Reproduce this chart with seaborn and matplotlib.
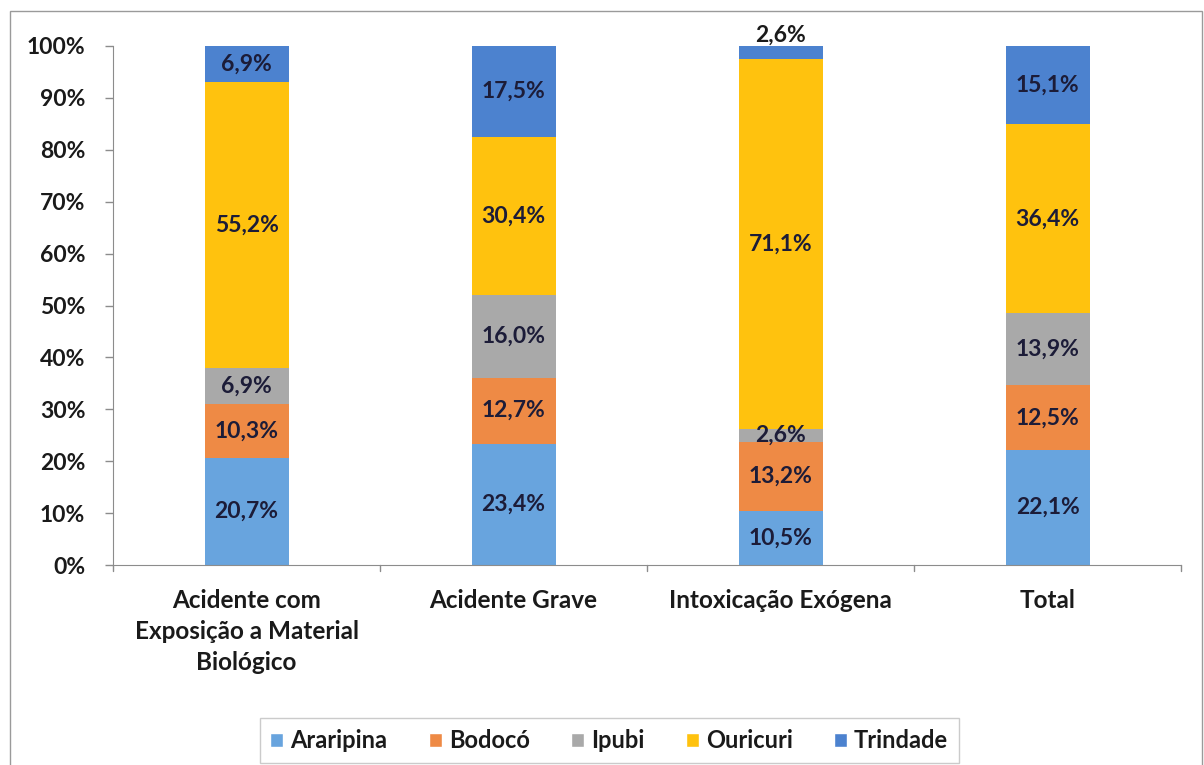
import numpy as np
import pandas as pd
import seaborn as sns
import matplotlib.pyplot as plt
from matplotlib.patches import Patch, Rectangle

sns.set_style("white")
plt.rcParams['font.family'] = ['Lato', 'DejaVu Sans']
plt.rcParams['font.weight'] = 'bold'

categorias = ['Acidente com\nExposição a Material\nBiológico', 'Acidente Grave',
              'Intoxicação Exógena', 'Total']
municipios = ['Araripina', 'Bodocó', 'Ipubi', 'Ouricuri', 'Trindade']
araripina = [20.7, 23.4, 10.5, 22.1]
bodoco = [10.3, 12.7, 13.2, 12.5]
ipubi = [6.9, 16.0, 2.6, 13.9]
ouricuri = [55.2, 30.4, 71.1, 36.4]
trindade = [6.9, 17.5, 2.6, 15.1]
cores = ['#68A4DE', '#EE8A45', '#A9A9A9', '#FFC20E', '#4C82CF']

valores = [araripina, bodoco, ipubi, ouricuri, trindade]

fig = plt.figure(figsize=(12.04, 7.65), dpi=100)
ax = fig.add_axes([0.0939, 0.2614, 0.8871, 0.6785])

base = np.zeros(len(categorias))
for nome, vals, cor in zip(municipios, valores, cores):
    frac = np.array(vals) / 100
    d = pd.DataFrame({'Categoria': categorias, 'v': frac})
    sns.barplot(data=d, x='Categoria', y='v', bottom=base, color=cor,
                width=0.315, ax=ax, saturation=1, edgecolor='none')
    for i, (b, f, v) in enumerate(zip(base, frac, vals)):
        txt = f"{v:.1f}%".replace('.', ',')
        if nome == 'Trindade' and v < 3:
            # rotulo pequeno vai acima da barra
            ax.text(i, b + f + 0.02, txt, ha='center', va='center',
                    fontsize=16.5, fontweight='bold', color='#1a1a1a')
        else:
            ax.text(i, b + f / 2, txt, ha='center', va='center',
                    fontsize=16.5, fontweight='bold', color='#1c1c38')
    base = base + frac

ax.set_xlim(-0.5, 3.5)
ax.set_ylim(0, 1)
ax.set_yticks(np.arange(0, 1.01, 0.1))
ax.set_yticklabels([f"{int(round(t * 100))}%" for t in np.arange(0, 1.01, 0.1)],
                   fontsize=16.5, fontweight='bold', color='#1a1a1a')
ax.set_xticks(range(4))
ax.set_xticklabels(categorias, fontsize=17.5, fontweight='bold', color='#1a1a1a',
                   linespacing=1.42)
ax.tick_params(axis='x', length=0, pad=17)
ax.tick_params(axis='y', length=6, color='#8c8c8c', width=1, pad=14, left=True)
for t in [-0.5, 0.5, 1.5, 2.5, 3.5]:
    ax.plot([t, t], [0, -0.012], color='#8c8c8c', lw=1, clip_on=False)
ax.set_xlabel('')
ax.set_ylabel('')
sns.despine(ax=ax, top=True, right=True)
ax.spines['left'].set_color('#8c8c8c')
ax.spines['bottom'].set_color('#8c8c8c')

handles = [Patch(facecolor=c, label=n) for n, c in zip(municipios, cores)]
leg = fig.legend(handles=handles, loc='center', bbox_to_anchor=(0.506, 0.032),
                 ncol=5, fontsize=17, frameon=True, fancybox=False,
                 handlelength=0.55, handleheight=0.55, handletextpad=0.3,
                 columnspacing=1.75, borderpad=0.45)
leg.get_frame().set_edgecolor('#bfbfbf')
for t in leg.get_texts():
    t.set_fontweight('bold')
    t.set_color('#1a1a1a')

fig.patches.append(Rectangle((0.008, -0.01), 0.99, 0.995, transform=fig.transFigure,
                             fill=False, edgecolor='#9a9a9a', lw=1))

fig.savefig('out.png', dpi=100)
